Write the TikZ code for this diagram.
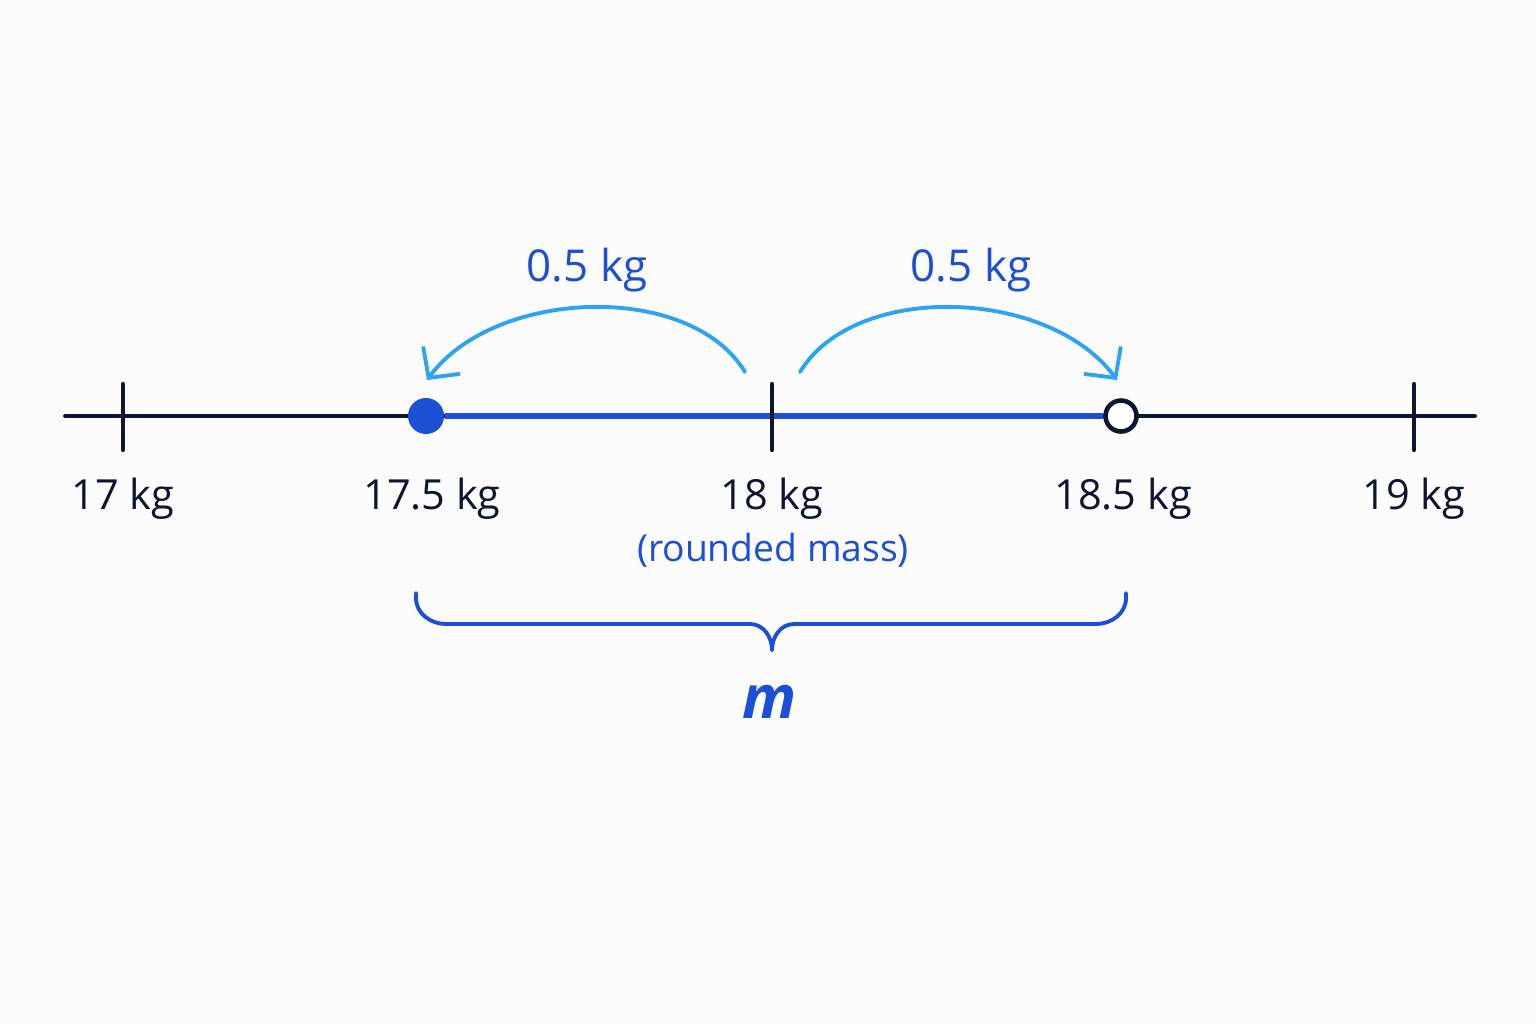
\documentclass[tikz,border=0pt]{standalone}
\usepackage{fontspec}
\setmainfont{Open Sans}
\usepackage{tikz}
\usetikzlibrary{arrows.meta,calc,positioning}
\definecolor{ink}{HTML}{0F1530}
\definecolor{deepblue}{HTML}{1A4FD6}
\definecolor{skyblue}{HTML}{2EA3F2}
\tikzset{every picture/.style={
  >={Straight Barb[length=2.2mm,width=4.6mm]}   % open chevron tips.
  }
}

\begin{document}
\begin{tikzpicture}[
    axis/.style={
      draw=ink,
      line width=1.1pt,
      line cap=round
    },
    tickmark/.style={
      draw=ink,
      line width=1.2pt,
      line cap=round
    },
    seg/.style={
      draw=deepblue,
      line width=1.8pt
    },
    hop/.style={
      draw=skyblue,
      line width=1.1pt,
      line cap=round,
      ->
    },
    kg/.style={
      anchor=base,
      text=ink,
      font=\fontsize{11.8}{14}\selectfont
    },
    note/.style={
      anchor=base,
      text=deepblue,
      font=\fontsize{12.5}{15}\selectfont
    }]

    % Page size and background.
    \useasboundingbox (0,0) rectangle (15.36,-10.24);
    \fill[white!99!black] (0,0) rectangle (15.36,-10.24);

    % Helper macro: a tick with its label below.
    \def\tk#1#2#3{
        \coordinate (#1) at (#2,-4.16);
        \draw[tickmark] ([yshift=0.32cm] #1) -- ([yshift=-0.34cm] #1);
        \node[kg] (#1l) at ([yshift=-0.93cm] #1) {#3};
      }

    % Draw the number line and the interval.
    \coordinate (axl) at (0.65,-4.16);
    \coordinate (axr) at (14.75,-4.16);
    \draw[axis] (axl) -- (axr);
    \node[circle,fill=deepblue,minimum size=0.36cm,inner sep=0pt]
      (lo) at (4.26,-4.16) {};
    \node[circle,draw=ink,fill=white,line width=1.3pt,
      minimum size=0.31cm,inner sep=0pt] (hi) at (11.21,-4.16) {};
    \draw[seg] (lo) -- (hi);

    \tk{t17}{1.23}{17 kg};
    \tk{t18}{7.72}{18 kg};
    \tk{t19}{14.14}{19 kg};
    \node[kg] (lol) at ($(lo)+(0.06,-0.93)$) {17.5 kg};
    \node[kg] (hil) at ($(hi)+(0.02,-0.93)$) {18.5 kg};
    \node[note,font=\fontsize{10.6}{13}\selectfont]
      (rm) at (7.73,-5.61) {(rounded mass)};

    % Draw the two half-kilogram hops.
    \coordinate (lfrom) at ([xshift=-0.27cm,yshift=0.44cm] t18);
    \coordinate (lto) at ([xshift=0.01cm,yshift=0.36cm] lo);
    \coordinate (rfrom) at ([xshift=0.28cm,yshift=0.44cm] t18);
    \coordinate (rto) at ([xshift=-0.04cm,yshift=0.36cm] hi);
    \draw[hop] (lfrom) .. controls +(-0.55,0.91) and +(0.68,0.92) .. (lto);
    \draw[hop] (rfrom) .. controls +(0.55,0.91) and +(-0.68,0.92) .. (rto);
    \node[note] (hl) at (5.87,-2.81) {0.5 kg};
    \node[note] (hr) at (9.71,-2.81) {0.5 kg};

    % Draw the brace and its label.
    \coordinate (bl) at (4.16,-5.93);
    \coordinate (br) at (11.26,-5.93);
    \coordinate (btip) at (7.72,-6.50);
    \draw[deepblue,line width=1.1pt,line cap=round]
      (bl) -- ++(0,-0.05) to[out=-90,in=180] (4.46,-6.24)
      -- (7.50,-6.24) to[out=0,in=90] (btip);
    \draw[deepblue,line width=1.1pt,line cap=round]
      (br) -- ++(0,-0.05) to[out=-90,in=0] (10.96,-6.24)
      -- (7.94,-6.24) to[out=180,in=90] (btip);
    \node[anchor=base,text=deepblue,
      font=\fontsize{17}{20}\selectfont\bfseries\itshape]
      (mm) at (7.70,-7.18) {m};
  \end{tikzpicture}
\end{document}
